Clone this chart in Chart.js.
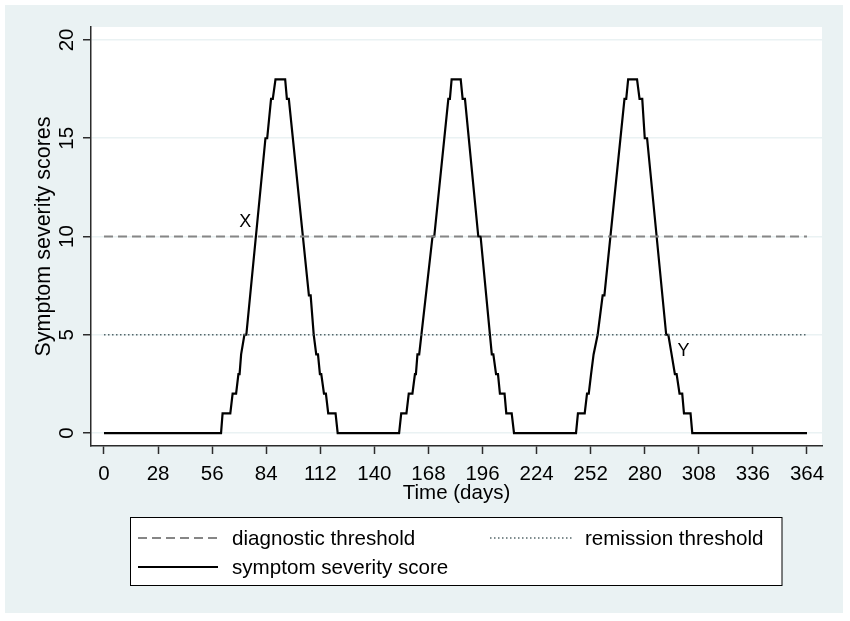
<!DOCTYPE html>
<html lang="en">
<head>
  <meta charset="UTF-8">
  <title>Symptom severity scores</title>
  <script src="https://cdn.jsdelivr.net/npm/chart.js"></script>
  <style>
    body { margin: 0; background: #fff; }
    canvas { display: block; }
  </style>
</head>
<body>
  <canvas id="chart" width="850" height="621"></canvas>
  <script>
    // corner points of the score curve
    const scoreDays = [
      0, 60.6, 61.4, 65.4, 66.6, 68.4, 69.6, 70.2, 71, 72.7, 73.7, 83.6, 84.5, 86.5, 87.4, 88.8,
      93.8, 94.7, 95.7, 106.1, 107, 108.6, 109.9, 110.8, 111.8, 112.5, 113.9, 114.9, 116.1, 119.9, 121,
      152.8, 153.9, 156.6, 157.8, 159.7, 161, 161.5, 162.3, 163.2, 170.1, 171, 178.3, 179.1, 180,
      184.7, 185.7, 186.9, 193.8, 195, 200.8, 201.6, 203, 204, 205, 207.4, 208.3, 211.1, 212.3,
      244.4, 245.4, 248.9, 250.1, 251, 252.2, 253.5, 255.6, 258.2, 259.1, 269.5, 270.4, 271.4,
      276, 277.3, 278.7, 280, 281.2, 291.1, 292.2, 293.9, 295.6, 296.5, 298, 299.4, 300.3, 303.7, 304.6,
      364
    ];
    const scores = [
      0, 0, 1, 1, 2, 2, 3, 3, 4, 5, 5, 15, 15, 17, 17, 18,
      18, 17, 17, 7, 7, 5, 4, 4, 3, 3, 2, 2, 1, 1, 0,
      0, 1, 1, 2, 2, 3, 3, 4, 4, 10, 10, 17, 17, 18,
      18, 17, 17, 10, 10, 4, 4, 3, 3, 2, 2, 1, 1, 0,
      0, 1, 1, 2, 2, 3, 4, 5, 7, 7, 17, 17, 18,
      18, 17, 17, 15, 15, 5, 5, 4, 3, 3, 2, 2, 1, 1, 0,
      0
    ];
    const thresholdDays = [0, 364];
    const diagnosticThreshold = [10, 10];
    const remissionThreshold = [5, 5];

    const xTicks = [0, 28, 56, 84, 112, 140, 168, 196, 224, 252, 280, 308, 336, 364];
    const yTicks = [0, 5, 10, 15, 20];

    const noteLabels = ["X", "Y"];
    const noteDays = [73.2, 300];
    const noteScores = [10.82, 4.27];

    const FONT = '"Liberation Sans", Arial, sans-serif';
    const BG = "#eaf2f3";
    const AXIS = "#2b2b2b";

    Chart.defaults.font.family = FONT;
    Chart.defaults.color = "#000";

    function pts(xs, ys) {
      return xs.map((x, i) => ({ x: x, y: ys[i] }));
    }

    const background = {
      id: "background",
      beforeDraw(chart) {
        const { ctx, chartArea } = chart;
        ctx.save();
        ctx.fillStyle = "#fff";
        ctx.fillRect(0, 0, chart.width, chart.height);
        ctx.fillStyle = BG;
        ctx.fillRect(5, 5, 838, 608);
        ctx.fillStyle = "#fff";
        ctx.fillRect(chartArea.left, chartArea.top, chartArea.right - chartArea.left, chartArea.bottom - chartArea.top);
        ctx.restore();
      }
    };

    // y tick labels are turned on their side, Chart.js only rotates x labels
    const yTickLabels = {
      id: "yTickLabels",
      afterDraw(chart) {
        const { ctx } = chart;
        const y = chart.scales.y;
        ctx.save();
        ctx.font = "20.5px " + FONT;
        ctx.fillStyle = "#000";
        ctx.textAlign = "center";
        ctx.textBaseline = "alphabetic";
        for (let v of yTicks) {
          ctx.save();
          ctx.translate(73, y.getPixelForValue(v));
          ctx.rotate(-Math.PI / 2);
          ctx.fillText(String(v), 0, 0);
          ctx.restore();
        }
        ctx.restore();
      }
    };

    const notes = {
      id: "notes",
      afterDatasetsDraw(chart) {
        const { ctx } = chart;
        const { x, y } = chart.scales;
        ctx.save();
        ctx.font = "18px " + FONT;
        ctx.fillStyle = "#000";
        ctx.textAlign = "center";
        ctx.textBaseline = "alphabetic";
        noteLabels.forEach((t, i) => {
          ctx.fillText(t, x.getPixelForValue(noteDays[i]), y.getPixelForValue(noteScores[i]) + 6.4);
        });
        ctx.restore();
      }
    };

    // Stata style legend box under the plot
    const legendBox = {
      id: "legendBox",
      afterDraw(chart) {
        const { ctx } = chart;
        const ds = chart.data.datasets;
        const slots = [
          { i: 0, x: 138, w: 80, tx: 232, y: 538 },
          { i: 1, x: 490, w: 82, tx: 585, y: 538 },
          { i: 2, x: 138, w: 80, tx: 232, y: 567 }
        ];
        ctx.save();
        ctx.fillStyle = "#fff";
        ctx.fillRect(130.5, 517.5, 651.5, 68);
        ctx.strokeStyle = "#000";
        ctx.lineWidth = 1;
        ctx.strokeRect(130.5, 517.5, 651.5, 68);
        ctx.font = "20.6px " + FONT;
        ctx.fillStyle = "#000";
        ctx.textBaseline = "alphabetic";
        for (let s of slots) {
          const d = ds[s.i];
          ctx.save();
          ctx.strokeStyle = d.borderColor;
          ctx.lineWidth = d.borderWidth;
          ctx.setLineDash(d.borderDash || []);
          ctx.beginPath();
          ctx.moveTo(s.x, s.y);
          ctx.lineTo(s.x + s.w, s.y);
          ctx.stroke();
          ctx.restore();
          ctx.fillText(d.label, s.tx, s.y + 7);
        }
        ctx.restore();
      }
    };

    new Chart(document.getElementById("chart"), {
      type: "line",
      data: {
        datasets: [
          {
            label: "diagnostic threshold",
            data: pts(thresholdDays, diagnosticThreshold),
            borderColor: "#868686",
            borderWidth: 2,
            borderDash: [9, 5],
            pointRadius: 0
          },
          {
            label: "remission threshold",
            data: pts(thresholdDays, remissionThreshold),
            borderColor: "#55676a",
            borderWidth: 1.5,
            borderDash: [1.5, 2.5],
            pointRadius: 0
          },
          {
            label: "symptom severity score",
            data: pts(scoreDays, scores),
            borderColor: "#000",
            borderWidth: 2.2,
            pointRadius: 0,
            tension: 0
          }
        ]
      },
      options: {
        responsive: false,
        animation: false,
        devicePixelRatio: 1,
        layout: { padding: { top: 27, right: 28, bottom: 0, left: 0 } },
        plugins: {
          legend: { display: false },
          tooltip: { enabled: false }
        },
        scales: {
          x: {
            type: "linear",
            min: -6.73,
            max: 371.77,
            afterBuildTicks: s => { s.ticks = xTicks.map(v => ({ value: v })); },
            afterFit: s => { s.height = 175; },
            ticks: {
              autoSkip: false,
              maxRotation: 0,
              padding: 8,
              font: { size: 20.5 },
              color: "#000"
            },
            grid: {
              drawOnChartArea: false,
              tickLength: 8,
              tickColor: AXIS,
              tickWidth: 1.5
            },
            border: { color: AXIS, width: 1.5 },
            title: {
              display: true,
              text: "Time (days)",
              font: { size: 20.5 },
              color: "#000",
              padding: { top: 0, bottom: 115 }
            }
          },
          y: {
            min: -0.66,
            max: 20.66,
            afterBuildTicks: s => { s.ticks = yTicks.map(v => ({ value: v })); },
            afterFit: s => { s.width = 91; },
            ticks: { display: false },
            grid: {
              color: BG,
              lineWidth: 1.5,
              tickLength: 8,
              tickColor: AXIS,
              tickWidth: 1.5
            },
            border: { color: AXIS, width: 1.5 },
            title: {
              display: true,
              text: "Symptom severity scores",
              font: { size: 21.5 },
              color: "#000",
              padding: { top: 31, bottom: 0 }
            }
          }
        }
      },
      plugins: [background, notes, yTickLabels, legendBox]
    });
  </script>
</body>
</html>
